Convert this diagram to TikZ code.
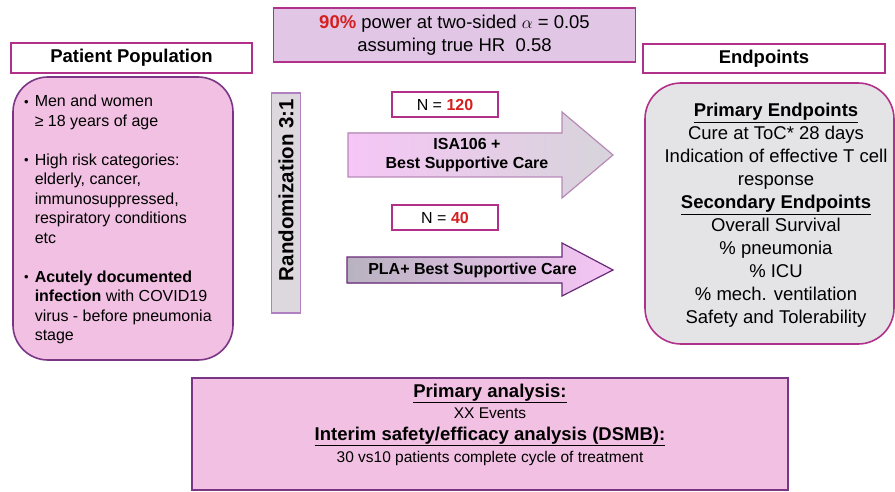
\documentclass[tikz,border=0pt]{standalone}
\usepackage{fontspec}
\setmainfont{Liberation Sans}

\definecolor{boxmagenta}{HTML}{B0308A}
\definecolor{boxpurple}{HTML}{7A3585}
\definecolor{popfill}{HTML}{F2C0E2}
\definecolor{powerfill}{HTML}{E2C6E6}
\definecolor{endfill}{HTML}{E4E4E6}
\definecolor{randfill}{HTML}{DCD8DE}
\definecolor{randedge}{HTML}{B080C0}
\definecolor{nred}{HTML}{D42020}
\definecolor{armpink}{HTML}{F6C6F6}
\definecolor{armgray}{HTML}{D6D4DA}
\definecolor{armedge}{HTML}{B88AB8}
\definecolor{plagray}{HTML}{B8B2C0}
\definecolor{plaedge}{HTML}{6A2A7A}

\newcommand{\popbullet}{\raisebox{0.5pt}{\fontsize{13}{13}\selectfont\textbullet}}

\begin{document}
\begin{tikzpicture}[x=1pt, y=-1pt]
          \tikzstyle{header}=[draw=boxmagenta, line width=1.6pt, fill=white, inner sep=0pt, font=\bfseries\fontsize{18.5}{22}\selectfont]
          \tikzstyle{countbox}=[draw=boxmagenta, line width=1.6pt, fill=white, inner sep=0pt, minimum width=106pt, minimum height=25pt, font=\fontsize{16}{19}\selectfont]
          \tikzstyle{armtext}=[align=center, inner sep=0pt, font=\bfseries\fontsize{16}{19}\selectfont]

          \useasboundingbox (0, 0) rectangle (895, 492);

          % top
          \node (power) at (454.5, 35) [draw=boxmagenta, line width=1.6pt, fill=powerfill, minimum width=362pt, minimum height=54pt, align=center, font=\fontsize{18.5}{23}\selectfont] {{\color{nred}\bfseries 90\%} power at two-sided $\alpha$ = 0.05\\ assuming true HR~~0.58};

          % patient population
          \node (pophead) at (131.5, 58) [header, minimum width=241pt, minimum height=30pt] {Patient Population};
          \node (popbox) at (123, 218.5) [draw=boxpurple, line width=1.6pt, fill=popfill, rounded corners=35pt, minimum width=220pt, minimum height=283pt] {};
          \node (poptext) at (24, 93) [anchor=north west, inner sep=0pt] {\fontsize{16}{19.5}\selectfont
            \begin{tabular}{@{}l@{\hspace{6pt}}l@{}}
              \popbullet & Men and women\\
              & ≥ 18 years of age\\
              & \\
              \popbullet & High risk categories:\\
              & elderly, cancer,\\
              & immunosuppressed,\\
              & respiratory conditions\\
              & etc\\
              & \\
              \popbullet & \textbf{Acutely documented}\\
              & \textbf{infection} with COVID19\\
              & virus - before pneumonia\\
              & stage
            \end{tabular}};

          % randomization and arms
          \node (rand) at (286, 203) [draw=randedge, line width=1.4pt, fill=randfill, minimum width=29pt, minimum height=220pt] {};
          \node (randtext) at (286, 190) [rotate=90, inner sep=0pt, font=\bfseries\fontsize{20.5}{24}\selectfont] {Randomization 3:1};

          \node (n120) at (445, 104.5) [countbox] {N = {\color{nred}\bfseries 120}};
          \node (n40) at (445, 217.5) [countbox] {N = {\color{nred}\bfseries 40}};

          \filldraw[draw=armedge, line width=1.2pt, left color=armpink, right color=armgray, line join=miter]
            (348, 133) -- (562, 133) -- (562, 112) -- (613, 155) -- (562, 198) -- (562, 177) -- (348, 177) -- cycle;
          \node (isatext) at (467, 155.5) [armtext] {ISA106 +\\ Best Supportive Care};

          \filldraw[draw=plaedge, line width=1.2pt, left color=plagray, right color=armpink, line join=miter]
            (347, 257) -- (562, 257) -- (562, 243) -- (613, 270) -- (562, 296) -- (562, 283) -- (347, 283) -- cycle;
          \node (platext) at (472.5, 270) [armtext] {PLA+ Best Supportive Care};

          % endpoints
          \node (endhead) at (764, 58.5) [header, minimum width=242pt, minimum height=29pt] {Endpoints};
          \node (endbox) at (769.5, 213.5) [draw=boxmagenta, line width=1.6pt, fill=endfill, rounded corners=36pt, minimum width=249pt, minimum height=261pt] {};
          \node (endtext) at (776, 215.5) [align=center, inner sep=0pt, font=\fontsize{18.5}{23}\selectfont] {\textbf{\underline{Primary Endpoints}}\\ Cure at ToC* 28 days\\ Indication of effective T cell\\ response\\ \textbf{\underline{Secondary Endpoints}}\\ Overall Survival\\ \% pneumonia\\ \% ICU\\ \% mech. ventilation\\ Safety and Tolerability};

          % analysis
          \node (analysis) at (490, 434) [draw=boxpurple, line width=1.6pt, fill=popfill, minimum width=596pt, minimum height=112pt] {};
          \node (analysistext) at (490, 424.5) [align=center, inner sep=0pt, font=\fontsize{15.5}{21.7}\selectfont] {{\bfseries\fontsize{18.5}{21.7}\selectfont\underline{Primary analysis:}}\\ XX Events\\ {\bfseries\fontsize{18.5}{21.7}\selectfont\underline{Interim safety/efficacy analysis (DSMB):}}\\ 30 vs10 patients complete cycle of treatment};
        \end{tikzpicture}
\end{document}
